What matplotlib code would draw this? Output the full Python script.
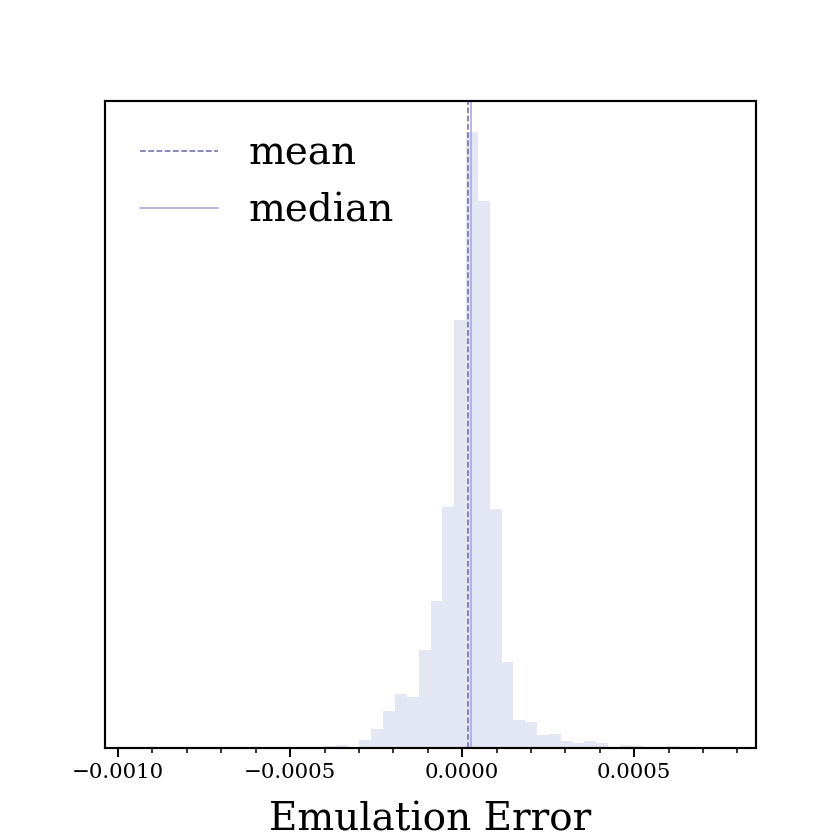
import numpy as np
import matplotlib
matplotlib.use("Agg")
import matplotlib.pyplot as plt
from matplotlib.ticker import MultipleLocator

# histogram: 50 equal bins between the data extremes
bin_lo = -0.000952
bin_hi = 0.000768
counts = [1, 0, 0, 0, 0, 0, 0, 0, 1, 0,
          1, 0, 0, 0, 1, 0, 2, 3, 1, 8,
          19, 37, 54, 51, 97, 146, 240, 427, 615, 546,
          238, 85, 28, 26, 13, 14, 7, 5, 7, 5,
          1, 3, 2, 0, 1, 2, 0, 0, 0, 1]
err_mean = 0.0000174
err_median = 0.0000262

plt.rcParams['font.family'] = 'serif'
plt.rcParams['font.serif'] = ['DejaVu Serif']
plt.rcParams['xtick.labelsize'] = 11
plt.rcParams['axes.linewidth'] = 1.1
plt.rcParams['xtick.major.size'] = 4.6
plt.rcParams['xtick.major.width'] = 1.0
plt.rcParams['xtick.minor.size'] = 2.6
plt.rcParams['xtick.minor.width'] = 0.8

edges = np.linspace(bin_lo, bin_hi, len(counts) + 1)
centers = 0.5 * (edges[:-1] + edges[1:])

fig, ax = plt.subplots(figsize=(6, 6), dpi=140)
ax.hist(centers, bins=edges, weights=counts, histtype='stepfilled',
        color='#e3e7f3', linewidth=0)
ax.axvline(err_mean, color='#6b68b5', ls='--', lw=0.8, label='mean')
ax.axvline(err_median, color='#a7a3de', ls='-', lw=0.8, label='median')

ax.set_yticks([])
ax.xaxis.set_major_locator(MultipleLocator(0.0005))
ax.xaxis.set_minor_locator(MultipleLocator(0.0001))
ax.set_xlabel('Emulation Error', fontsize=20, labelpad=10)
ax.legend(loc='upper left', frameon=False, fontsize=20)

fig.savefig('out.png', dpi=140)
